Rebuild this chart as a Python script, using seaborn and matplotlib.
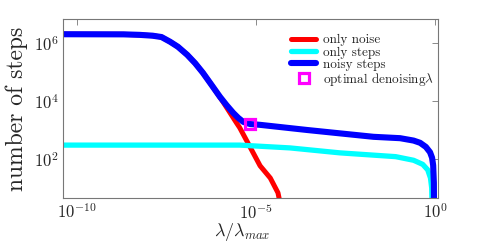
import pandas as pd
import seaborn as sns
import matplotlib
matplotlib.use("Agg")
import matplotlib.pyplot as plt

# values (x = lambda / lambda_max, y = number of steps)
noisy_lam = [4.1e-11, 2.0e-9, 5.7e-9, 1.3e-8, 2.3e-8, 4.0e-8, 6.6e-8, 1.2e-7, 2.0e-7,
             3.3e-7, 5.8e-7, 9.8e-7, 1.5e-6, 2.3e-6, 3.2e-6, 4.4e-6, 6.8e-6, 1.3e-5,
             2.6e-4, 1.9e-2, 0.105, 0.25, 0.38, 0.55, 0.72, 0.82, 0.88, 0.92, 0.93]
noisy_steps = [2.0e6, 1.98e6, 1.9e6, 1.78e6, 1.6e6, 1.1e6, 7.4e5, 3.9e5, 2.0e5,
               9.3e4, 3.5e4, 1.4e4, 7.2e3, 3.9e3, 2.6e3, 1.9e3, 1.6e3, 1.5e3,
               1.0e3, 5.8e2, 5.2e2, 4.3e2, 3.6e2, 2.6e2, 1.7e2, 1.1e2, 60, 15, 1]

steps_lam = [4.1e-11, 3.5e-6, 8.9e-5, 2.2e-3, 7.9e-2, 0.25, 0.45, 0.62, 0.74, 0.8, 0.83]
steps_steps = [300, 300, 240, 162, 120, 90, 65, 42, 22, 10, 1]

noise_lam = [4.1e-11, 2.0e-9, 5.7e-9, 1.3e-8, 2.3e-8, 4.0e-8, 6.6e-8, 1.2e-7, 2.0e-7,
             3.3e-7, 5.8e-7, 1.2e-6, 2.9e-6, 3.5e-6, 6.8e-6, 1.3e-5, 2.5e-5, 4.1e-5,
             4.7e-5]
noise_steps = [2.0e6, 1.98e6, 1.9e6, 1.78e6, 1.6e6, 1.1e6, 7.4e5, 3.9e5, 2.0e5,
               9.3e4, 3.5e4, 9.3e3, 1.7e3, 1.2e3, 2.6e2, 58, 22, 6.8, 3]

opt_lam = [6.8e-6]
opt_steps = [1.6e3]

series = {
    "only noise": (noise_lam, noise_steps, "#ff0000", 3.6),
    "only steps": (steps_lam, steps_steps, "#00ffff", 3.8),
    "noisy steps": (noisy_lam, noisy_steps, "#0000ff", 4.4),
}

sns.set_style("white")
plt.rcParams["font.family"] = "serif"
plt.rcParams["font.serif"] = ["cmr10", "DejaVu Serif"]
plt.rcParams["mathtext.fontset"] = "cm"
plt.rcParams["axes.formatter.use_mathtext"] = True
plt.rcParams["axes.unicode_minus"] = True

fig = plt.figure(figsize=(4.84, 2.44), dpi=100)
ax = fig.add_axes([63 / 484, 1 - 198 / 244, 375 / 484, 179 / 244])

for name, (lam, steps, col, lw) in series.items():
    df = pd.DataFrame({"lam": lam, "steps": steps})
    sns.lineplot(data=df, x="lam", y="steps", color=col, linewidth=lw,
                 sort=False, estimator=None, label=name, ax=ax)

ax.plot(opt_lam, opt_steps, linestyle="none", marker="s", markersize=7.5,
        markerfacecolor="none", markeredgecolor="#ff00ff", markeredgewidth=2.3,
        label=r"optimal denoising$\lambda$")

ax.set_xscale("log")
ax.set_yscale("log")
ax.set_xlim(4.1e-11, 1.2)
ax.set_ylim(4.5, 6.7e6)
ax.set_xticks([1e-10, 1e-5, 1e0])
ax.set_yticks([1e2, 1e4, 1e6])
ax.minorticks_off()

ax.tick_params(direction="in", top=True, right=True, length=4, width=0.6,
               color="#777777", labelsize=12, pad=3)
for s in ax.spines.values():
    s.set_color("#777777")
    s.set_linewidth(0.8)

ax.set_xlabel(r"$\lambda/\lambda_{max}$", fontsize=13)
ax.xaxis.set_label_coords(0.477, -0.128)
ax.set_ylabel("number of steps", fontsize=17, labelpad=4)

ax.legend(loc="upper left", bbox_to_anchor=(0.609, 0.915), frameon=False,
          fontsize=9.5, handlelength=1.9, handletextpad=0.5, labelspacing=0.0,
          borderaxespad=0, borderpad=0)

fig.savefig("out.png", dpi=100)
